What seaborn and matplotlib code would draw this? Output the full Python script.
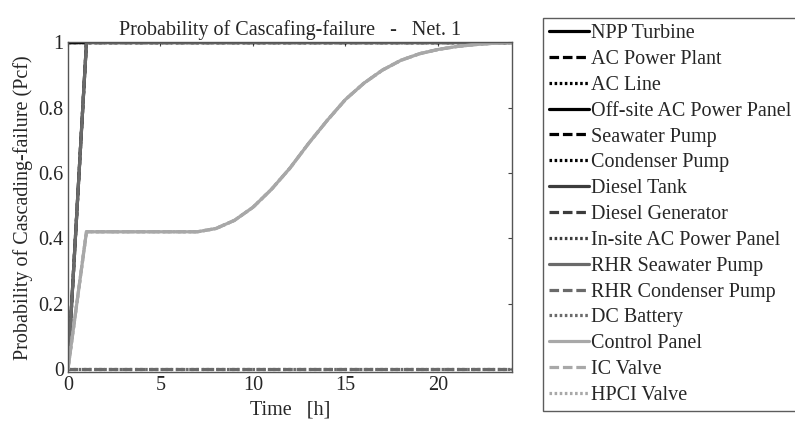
import numpy as np
import pandas as pd
import matplotlib
matplotlib.use("Agg")
import matplotlib.pyplot as plt
import seaborn as sns

# time axis [h]
hours = list(range(0, 25))

components = ["NPP Turbine", "AC Power Plant", "AC Line", "Off-site AC Power Panel",
              "Seawater Pump", "Condenser Pump", "Diesel Tank", "Diesel Generator",
              "In-site AC Power Panel", "RHR Seawater Pump", "RHR Condenser Pump",
              "DC Battery", "Control Panel", "IC Valve", "HPCI Valve"]

# Pcf curves
always_failed = [1.0] * 25
fail_at_1h = [0.0] + [1.0] * 24
never_failed = [0.0] * 25
slow_failure = [0.0, 0.42, 0.42, 0.42, 0.42, 0.42, 0.42, 0.42, 0.43, 0.455, 0.495,
                0.55, 0.615, 0.69, 0.76, 0.825, 0.875, 0.915, 0.945, 0.965, 0.978,
                0.987, 0.993, 0.997, 1.0]

pcf = {
    "NPP Turbine": always_failed,
    "AC Power Plant": always_failed,
    "AC Line": always_failed,
    "Off-site AC Power Panel": always_failed,
    "Seawater Pump": always_failed,
    "Condenser Pump": always_failed,
    "Diesel Tank": fail_at_1h,
    "Diesel Generator": fail_at_1h,
    "In-site AC Power Panel": fail_at_1h,
    "RHR Seawater Pump": fail_at_1h,
    "RHR Condenser Pump": never_failed,
    "DC Battery": never_failed,
    "Control Panel": slow_failure,
    "IC Valve": slow_failure,
    "HPCI Valve": slow_failure,
}

grays = ["#000000"] * 6 + ["#3c3c3c"] * 3 + ["#6a6a6a"] * 3 + ["#a8a8a8"] * 3
styles = ["", (3, 1.2), (0.8, 0.8)] * 5

rows = []
for c in components:
    for t, v in zip(hours, pcf[c]):
        rows.append({"Time": t, "Pcf": v, "Component": c})
df = pd.DataFrame(rows)

sns.set_style("white")
plt.rcParams["font.family"] = ["Liberation Serif", "DejaVu Serif"]
fs = 14.5

fig = plt.figure(figsize=(7.95, 4.23), dpi=100)
ax = fig.add_axes([0.0855, 0.12, 0.5585, 0.78])

sns.lineplot(data=df, x="Time", y="Pcf", hue="Component", style="Component",
             hue_order=components, style_order=components,
             palette=dict(zip(components, grays)),
             dashes=dict(zip(components, styles)),
             linewidth=2.3, ax=ax, legend=True)

ax.set_xlim(0, 24)
ax.set_ylim(-0.01, 1.0)
ax.set_xticks([0, 5, 10, 15, 20])
ax.set_yticks([0, 0.2, 0.4, 0.6, 0.8, 1])
ax.set_yticklabels(["0", "0.2", "0.4", "0.6", "0.8", "1"])
ax.tick_params(direction="in", length=3, top=True, right=True, labelsize=fs,
               color="#444444", pad=3)
for s in ax.spines.values():
    s.set_color("#555555")
    s.set_linewidth(1.0)

ax.set_title("Probability of Cascafing-failure   -   Net. 1", fontsize=fs, pad=5)
ax.set_xlabel("Time   [h]", fontsize=fs, labelpad=4)
ax.set_ylabel("Probability of Cascading-failure (Pcf)", fontsize=fs, labelpad=4)

handles, labels = ax.get_legend_handles_labels()
leg = ax.legend(handles, labels, loc="upper left",
                bbox_to_anchor=(543 / 795, 1 - 18 / 423),
                bbox_transform=fig.transFigure,
                fontsize=fs, handlelength=2.0, handletextpad=0.1,
                labelspacing=0.335, borderpad=0.3, borderaxespad=0,
                frameon=True, fancybox=False)
leg.get_frame().set_edgecolor("#333333")
leg.get_frame().set_linewidth(1.0)

fig.savefig("out.png", dpi=100)
